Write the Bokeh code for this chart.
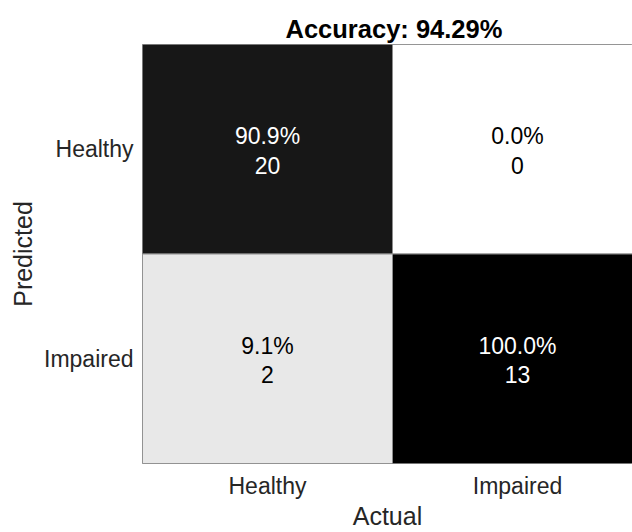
from bokeh.plotting import figure
from bokeh.models import Range1d, FixedTicker, LinearColorMapper, ColumnDataSource
from bokeh.palettes import Greys256
from bokeh.transform import transform
from bokeh.core.properties import value
from bokeh.embed import file_html
from bokeh.resources import INLINE

# ---- data ----
classes = ["Healthy", "Impaired"]
actual = ["Healthy", "Healthy", "Impaired", "Impaired"]
predicted = ["Healthy", "Impaired", "Healthy", "Impaired"]
counts = [20, 2, 0, 13]
percents = [90.9, 9.1, 0.0, 100.0]
accuracy = 94.29

FONT = "Liberation Sans"
n = len(classes)
xs = [classes.index(a) + 0.5 for a in actual]
ys = [n - classes.index(q) - 0.5 for q in predicted]
pct_text = [f"{v:.1f}%" for v in percents]
cnt_text = [str(c) for c in counts]
txt_color = ["white" if v > 50 else "black" for v in percents]

src = ColumnDataSource(dict(x=xs, y=ys, pct=percents, pct_text=pct_text,
                            cnt_text=cnt_text, tc=txt_color))

mapper = LinearColorMapper(palette=list(reversed(Greys256)), low=0, high=100)

p = figure(width=632, height=532,
           x_range=Range1d(0, 1.96), y_range=Range1d(0, n),
           output_backend="svg", toolbar_location=None,
           min_border_left=142, min_border_right=0,
           min_border_top=44, min_border_bottom=69)

p.rect(x="x", y="y", width=1, height=1, source=src,
       fill_color=transform("pct", mapper), line_color="#8c8c8c", line_width=1)

p.text(x="x", y="y", text="pct_text", source=src, y_offset=-13,
       text_align="center", text_baseline="middle",
       text_font=value(FONT), text_font_size="23px", text_color="tc")
p.text(x="x", y="y", text="cnt_text", source=src, y_offset=16,
       text_align="center", text_baseline="middle",
       text_font=value(FONT), text_font_size="23px", text_color="tc")

# title
p.title.text = f"Accuracy: {accuracy:.2f}%"
p.title.text_font = FONT
p.title.text_font_size = "25.5px"
p.title.text_font_style = "bold"
p.title.text_color = "black"
p.title.align = "left"
p.title.offset = 143
p.title.standoff = 4

# axes
p.xaxis.ticker = FixedTicker(ticks=[i + 0.5 for i in range(n)])
p.xaxis.major_label_overrides = {i + 0.5: c for i, c in enumerate(classes)}
p.yaxis.ticker = FixedTicker(ticks=[n - i - 0.5 for i in range(n)])
p.yaxis.major_label_overrides = {n - i - 0.5: c for i, c in enumerate(classes)}
p.xaxis.axis_label = "Actual"
p.yaxis.axis_label = "Predicted"
for ax in (p.xaxis, p.yaxis):
    ax.axis_line_color = None
    ax.major_tick_line_color = None
    ax.minor_tick_line_color = None
    ax.major_tick_out = 0
    ax.major_label_text_font = FONT
    ax.major_label_text_font_size = "23px"
    ax.major_label_text_color = "#262626"
    ax.axis_label_text_font = FONT
    ax.axis_label_text_font_size = "25px"
    ax.axis_label_text_font_style = "normal"
    ax.axis_label_text_color = "#262626"
p.xaxis.major_label_standoff = 9
p.xaxis.axis_label_standoff = 0
p.yaxis.major_label_standoff = 9
p.yaxis.axis_label_standoff = 4

p.xgrid.visible = False
p.ygrid.visible = False
p.outline_line_color = "#7f7f7f"
p.background_fill_color = "white"
p.border_fill_color = "white"

open("out.html", "w").write(file_html(p, INLINE))
